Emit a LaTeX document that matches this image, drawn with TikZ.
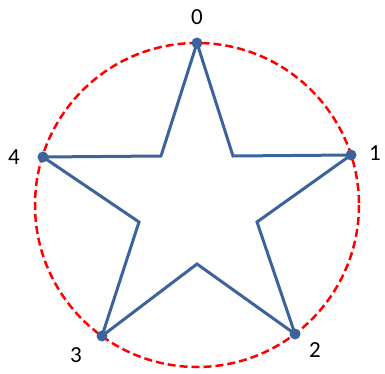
\documentclass[tikz,border=0pt]{standalone}
\usepackage{fontspec}
\setmainfont{Carlito}
\definecolor{starblue}{RGB}{60,100,155}
\definecolor{circred}{RGB}{255,0,0}
\begin{document}
\begin{tikzpicture}[x=1pt,y=-1pt,
  starline/.style={draw=starblue,line width=3pt,line join=miter},
  ring/.style={draw=circred,line width=2.5pt,dash pattern=on 8pt off 4pt},
  vdot/.style={circle,fill=starblue,inner sep=0pt,minimum size=11pt},
  lab/.style={font=\fontsize{23}{26}\selectfont,inner sep=0pt}]
\useasboundingbox (0,0) rectangle (385,374);
\draw[ring] (197,205) circle[radius=162];
\coordinate (p0) at (197,43);
\coordinate (p1) at (351,155);
\coordinate (p2) at (295,334);
\coordinate (p3) at (102,336);
\coordinate (p4) at (43,157);
\coordinate (i01) at (233,156);
\coordinate (i12) at (257,222);
\coordinate (i23) at (197,264);
\coordinate (i34) at (139,222);
\coordinate (i40) at (161,156);
\draw[starline] (p0) -- (i01) -- (p1) -- (i12) -- (p2) -- (i23) -- (p3) -- (i34) -- (p4) -- (i40) -- cycle;
\node[vdot] (d0) at (p0) {};
\node[vdot] (d1) at (p1) {};
\node[vdot] (d2) at (p2) {};
\node[vdot] (d3) at (p3) {};
\node[vdot] (d4) at (p4) {};
\node[lab] (l0) at (197,17) {0};
\node[lab] (l1) at (375,153) {1};
\node[lab] (l2) at (315,350) {2};
\node[lab] (l3) at (76,355) {3};
\node[lab] (l4) at (14,157) {4};
\end{tikzpicture}
\end{document}
